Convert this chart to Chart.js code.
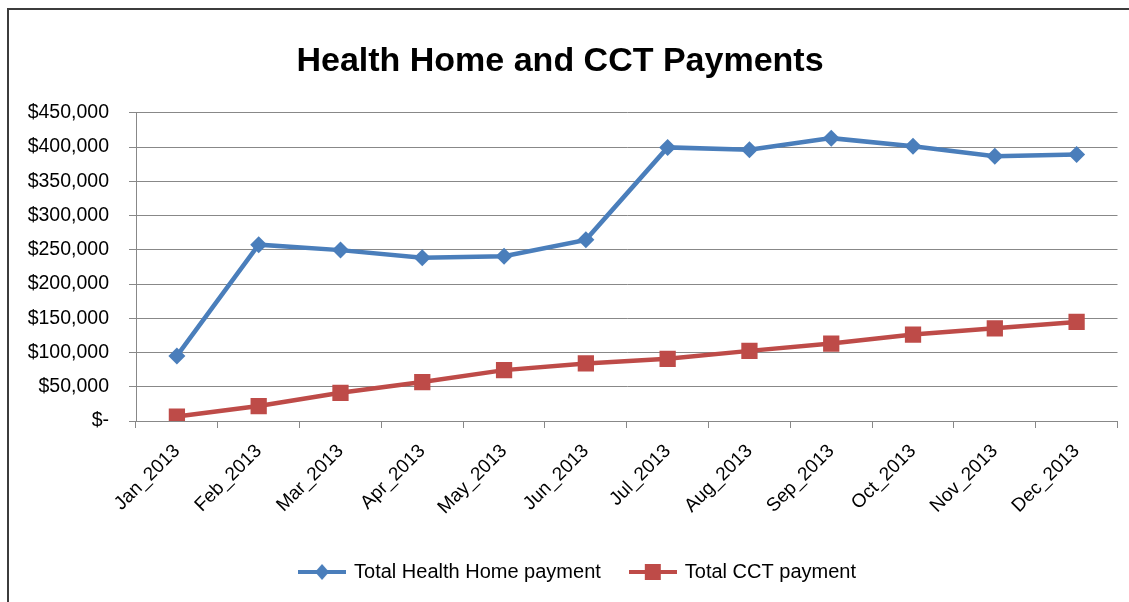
<!DOCTYPE html>
<html><head><meta charset="utf-8">
<script src="https://cdn.jsdelivr.net/npm/chart.js@4"></script>
<style>
html,body{margin:0;padding:0;background:#fff;overflow:hidden;width:1129px;height:602px;}
#frame{position:absolute;left:7px;top:8px;width:1140px;height:620px;border-left:2px solid #3c3c3c;border-top:2px solid #3c3c3c;}
#c{position:absolute;left:0;top:0;}
</style></head><body>
<div id="frame"></div>
<canvas id="c" width="1129" height="602"></canvas>
<script>
const categories = ['Jan_2013','Feb_2013','Mar_2013','Apr_2013','May_2013','Jun_2013','Jul_2013','Aug_2013','Sep_2013','Oct_2013','Nov_2013','Dec_2013'];
const healthHome = [95000, 257500, 249500, 238500, 240500, 264500, 399500, 396000, 413000, 401000, 386500, 389000];
const cct = [6500, 21800, 41200, 56800, 74300, 84000, 90800, 102400, 113100, 126200, 135400, 144700];
const yTickLabels = ['$-','$50,000','$100,000','$150,000','$200,000','$250,000','$300,000','$350,000','$400,000','$450,000'];
const seriesNames = ['Total Health Home payment','Total CCT payment'];

const BLUE = '#4A7EBB', RED = '#BE4B48';
const FONT = "'Liberation Sans', Arial, sans-serif";

function legendIcon(color, shape) {
  const c = document.createElement('canvas');
  c.width = 48; c.height = 20;
  const g = c.getContext('2d');
  g.strokeStyle = color; g.lineWidth = 4;
  g.beginPath(); g.moveTo(0, 10); g.lineTo(48, 10); g.stroke();
  g.fillStyle = color;
  g.beginPath();
  if (shape === 'diamond') { g.moveTo(24, 2); g.lineTo(31, 10); g.lineTo(24, 18); g.lineTo(17, 10); }
  else { g.rect(16, 2, 16, 16); }
  g.closePath(); g.fill();
  return c;
}

const legendShift = {
  id: 'legendShift',
  afterLayout(chart) {
    if (chart.legend) { chart.legend.left += 18; chart.legend.right += 18; }
  }
};

new Chart(document.getElementById('c'), {
  type: 'line',
  data: {
    labels: categories,
    datasets: [
      { label: seriesNames[0], data: healthHome, borderColor: BLUE, backgroundColor: BLUE,
        borderWidth: 4.5, pointStyle: 'rectRot', pointRadius: 8.5, pointHoverRadius: 8.5,
        pointBorderWidth: 0, tension: 0, legendIcon: legendIcon(BLUE, 'diamond') },
      { label: seriesNames[1], data: cct, borderColor: RED, backgroundColor: RED,
        borderWidth: 4.5, pointStyle: 'rect', pointRadius: 11.5, pointHoverRadius: 11.5,
        pointBorderWidth: 0, tension: 0, legendIcon: legendIcon(RED, 'square') }
    ]
  },
  plugins: [legendShift],
  options: {
    responsive: false, animation: false,
    layout: { padding: { left: 0, right: 9, top: 0, bottom: 10 } },
    plugins: {
      title: { display: true, text: 'Health Home and CCT Payments', color: '#000',
        font: { family: FONT, size: 34, weight: 'bold' },
        padding: { top: 41, bottom: 31 } },
      legend: { position: 'bottom',
        labels: { usePointStyle: true, pointStyleWidth: 44, color: '#000', padding: 30,
          font: { family: FONT, size: 20 },
          generateLabels: (chart) => chart.data.datasets.map((ds, i) => ({
            text: ds.label, pointStyle: ds.legendIcon, fillStyle: ds.borderColor,
            strokeStyle: ds.borderColor, lineWidth: 0, hidden: false, datasetIndex: i, fontColor: '#000'
          })) } },
      tooltip: { enabled: false }
    },
    scales: {
      x: { offset: true,
        grid: { offset: true, drawOnChartArea: false, drawTicks: true, tickLength: 7, color: '#888', lineWidth: 1 },
        border: { color: '#888', width: 1 },
        ticks: { maxRotation: 45, minRotation: 45, autoSkip: false, color: '#000', padding: 12,
          font: { family: FONT, size: 19 } },
        afterFit: (s) => { s.height = 111; s.paddingRight = 0; s.paddingLeft = 0; } },
      y: { min: 0, max: 450000,
        grid: { color: '#888', lineWidth: 1, tickLength: 7, drawTicks: true },
        border: { color: '#888', width: 1 },
        ticks: { stepSize: 50000, color: '#000', padding: 20, font: { family: FONT, size: 19.5 },
          callback: (v, i) => yTickLabels[i] },
        afterFit: (s) => { s.width = 136; } }
    }
  }
});
</script>
</body></html>
